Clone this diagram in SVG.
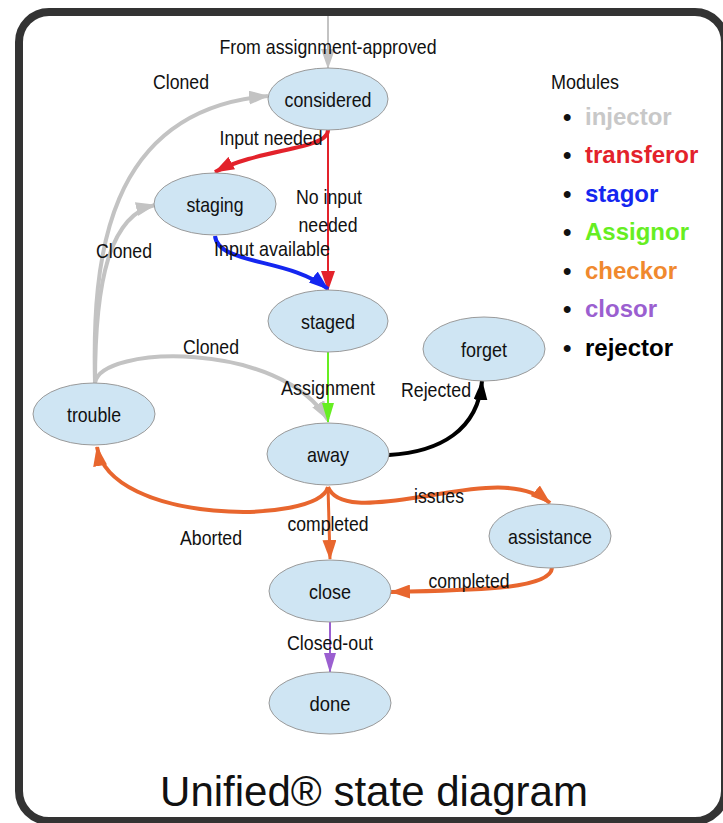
<svg xmlns="http://www.w3.org/2000/svg" width="723" height="823" viewBox="0 0 723 823">
<style>
.frame{fill:#fff;stroke:#333;stroke-width:8}
.node ellipse{fill:#cfe5f3;stroke:#9a9a9a;stroke-width:1}
.node text,.lbl{font-family:"Liberation Sans",Arial,sans-serif;font-size:21px;fill:#111;text-anchor:middle}
.e{fill:none}
.gray{stroke:#c3c3c3}
.red{stroke:#e3222b}
.blue{stroke:#1426f0}
.green{stroke:#66ee22}
.black{stroke:#000}
.orange{stroke:#e8662e}
.purple{stroke:#9b5fd0}
.leg{font-family:"Liberation Sans",Arial,sans-serif;font-size:24px;font-weight:bold}
.title{font-family:"Liberation Sans",Arial,sans-serif;font-size:42px;fill:#111;text-anchor:middle}
</style>
<defs>
<marker id="mg" markerUnits="userSpaceOnUse" viewBox="0 0 20 14" refX="19" refY="7" markerWidth="20" markerHeight="14" orient="auto"><path d="M0,0L20,7L0,14z" fill="#c3c3c3"/></marker>
<marker id="mr" markerUnits="userSpaceOnUse" viewBox="0 0 20 14" refX="19" refY="7" markerWidth="20" markerHeight="14" orient="auto"><path d="M0,0L20,7L0,14z" fill="#e3222b"/></marker>
<marker id="mb" markerUnits="userSpaceOnUse" viewBox="0 0 20 14" refX="19" refY="7" markerWidth="20" markerHeight="14" orient="auto"><path d="M0,0L20,7L0,14z" fill="#1426f0"/></marker>
<marker id="mgr" markerUnits="userSpaceOnUse" viewBox="0 0 20 12" refX="19" refY="6" markerWidth="20" markerHeight="12" orient="auto"><path d="M0,0L20,6L0,12z" fill="#66ee22"/></marker>
<marker id="mk" markerUnits="userSpaceOnUse" viewBox="0 0 20 14" refX="19" refY="7" markerWidth="20" markerHeight="14" orient="auto"><path d="M0,0L20,7L0,14z" fill="#000"/></marker>
<marker id="mo" markerUnits="userSpaceOnUse" viewBox="0 0 20 14" refX="19" refY="7" markerWidth="20" markerHeight="14" orient="auto"><path d="M0,0L20,7L0,14z" fill="#e8662e"/></marker>
<marker id="mp" markerUnits="userSpaceOnUse" viewBox="0 0 20 12" refX="19" refY="6" markerWidth="20" markerHeight="12" orient="auto"><path d="M0,0L20,6L0,12z" fill="#9b5fd0"/></marker>
</defs>
<rect class="frame" x="19" y="12" width="706" height="809" rx="30"/>

<g id="connectors">
<path class="e gray" stroke-width="2" d="M328,16L328,68" marker-end="url(#mg)"/>
<path class="e gray" stroke-width="4" d="M95,383C92,260 105,110 268,96" marker-end="url(#mg)"/>
<path class="e gray" stroke-width="4" d="M95,383C95,280 110,215 155,205" marker-end="url(#mg)"/>
<path class="e gray" stroke-width="4" d="M95,383C100,345 280,340 328,420" marker-end="url(#mg)"/>
<path class="e red" stroke-width="4" d="M328,130C328,150 260,148 215,172" marker-end="url(#mr)"/>
<path class="e red" stroke-width="2" d="M328,130L328,290" marker-end="url(#mr)"/>
<path class="e blue" stroke-width="4" d="M215,236C218,265 290,258 328,289" marker-end="url(#mb)"/>
<path class="e green" stroke-width="2" d="M328,352L328,422" marker-end="url(#mgr)"/>
<path class="e black" stroke-width="4" d="M389,455C440,452 478,430 482,381" marker-end="url(#mk)"/>
<path class="e orange" stroke-width="4" d="M328,487C318,525 110,525 97,447" marker-end="url(#mo)"/>
<path class="e orange" stroke-width="4" d="M328,487C336,507 370,505 420,497S520,478 550,503" marker-end="url(#mo)"/>
<path class="e orange" stroke-width="3" d="M328,487L330,559" marker-end="url(#mo)"/>
<path class="e orange" stroke-width="4" d="M552,568C550,590 470,590 391,592" marker-end="url(#mo)"/>
<path class="e purple" stroke-width="2" d="M330,622L330,672" marker-end="url(#mp)"/>
</g>

<g id="edge-labels">
<text class="lbl" x="328" y="54" textLength="217" lengthAdjust="spacingAndGlyphs">From assignment-approved</text>
<text class="lbl" x="181" y="89" textLength="56" lengthAdjust="spacingAndGlyphs">Cloned</text>
<text class="lbl" x="271" y="145" textLength="103" lengthAdjust="spacingAndGlyphs">Input needed</text>
<text class="lbl" x="329" y="204" textLength="66" lengthAdjust="spacingAndGlyphs">No input</text>
<text class="lbl" x="328" y="232" textLength="59" lengthAdjust="spacingAndGlyphs">needed</text>
<text class="lbl" x="124" y="258" textLength="56" lengthAdjust="spacingAndGlyphs">Cloned</text>
<text class="lbl" x="272" y="256" textLength="116" lengthAdjust="spacingAndGlyphs">Input available</text>
<text class="lbl" x="211" y="354" textLength="56" lengthAdjust="spacingAndGlyphs">Cloned</text>
<text class="lbl" x="328" y="395" textLength="94" lengthAdjust="spacingAndGlyphs">Assignment</text>
<text class="lbl" x="436" y="397" textLength="70" lengthAdjust="spacingAndGlyphs">Rejected</text>
<text class="lbl" x="439" y="503" textLength="50" lengthAdjust="spacingAndGlyphs">issues</text>
<text class="lbl" x="211" y="545" textLength="62" lengthAdjust="spacingAndGlyphs">Aborted</text>
<text class="lbl" x="328" y="531" textLength="81" lengthAdjust="spacingAndGlyphs">completed</text>
<text class="lbl" x="469" y="588" textLength="81" lengthAdjust="spacingAndGlyphs">completed</text>
<text class="lbl" x="330" y="650" textLength="86" lengthAdjust="spacingAndGlyphs">Closed-out</text>
</g>

<g id="considered" class="node"><ellipse cx="328" cy="99" rx="60" ry="31"/><text x="328" y="107" textLength="87" lengthAdjust="spacingAndGlyphs">considered</text></g>
<g id="staging" class="node"><ellipse cx="215" cy="204" rx="61" ry="31"/><text x="215" y="212" textLength="57" lengthAdjust="spacingAndGlyphs">staging</text></g>
<g id="staged" class="node"><ellipse cx="328" cy="321" rx="60" ry="31"/><text x="328" y="329" textLength="54" lengthAdjust="spacingAndGlyphs">staged</text></g>
<g id="forget" class="node"><ellipse cx="484" cy="349" rx="61" ry="32"/><text x="484" y="357" textLength="46" lengthAdjust="spacingAndGlyphs">forget</text></g>
<g id="trouble" class="node"><ellipse cx="94" cy="414" rx="61" ry="31"/><text x="94" y="422" textLength="54" lengthAdjust="spacingAndGlyphs">trouble</text></g>
<g id="away" class="node"><ellipse cx="328" cy="454" rx="61" ry="31"/><text x="328" y="462" textLength="42" lengthAdjust="spacingAndGlyphs">away</text></g>
<g id="assistance" class="node"><ellipse cx="550" cy="536" rx="61" ry="32"/><text x="550" y="544" textLength="84" lengthAdjust="spacingAndGlyphs">assistance</text></g>
<g id="close" class="node"><ellipse cx="330" cy="591" rx="61" ry="31"/><text x="330" y="599" textLength="42" lengthAdjust="spacingAndGlyphs">close</text></g>
<g id="done" class="node"><ellipse cx="330" cy="703" rx="61" ry="31"/><text x="330" y="711" textLength="41" lengthAdjust="spacingAndGlyphs">done</text></g>

<g id="legend">
<text x="551" y="89" font-family="Liberation Sans, Arial, sans-serif" font-size="20" textLength="68" lengthAdjust="spacingAndGlyphs" fill="#111">Modules</text>
<g class="leg">
<text x="563" y="125" fill="#111">•</text><text x="585" y="125" fill="#c8c8c8">injector</text>
<text x="563" y="163" fill="#111">•</text><text x="585" y="163" fill="#e3222b">transferor</text>
<text x="563" y="202" fill="#111">•</text><text x="585" y="202" fill="#1426f0">stagor</text>
<text x="563" y="240" fill="#111">•</text><text x="585" y="240" fill="#66ee22">Assignor</text>
<text x="563" y="279" fill="#111">•</text><text x="585" y="279" fill="#f0892e">checkor</text>
<text x="563" y="317" fill="#111">•</text><text x="585" y="317" fill="#9b5fd0">closor</text>
<text x="563" y="356" fill="#111">•</text><text x="585" y="356" fill="#000">rejector</text>
</g>
</g>

<text class="title" x="374" y="806">Unified® state diagram</text>
</svg>
